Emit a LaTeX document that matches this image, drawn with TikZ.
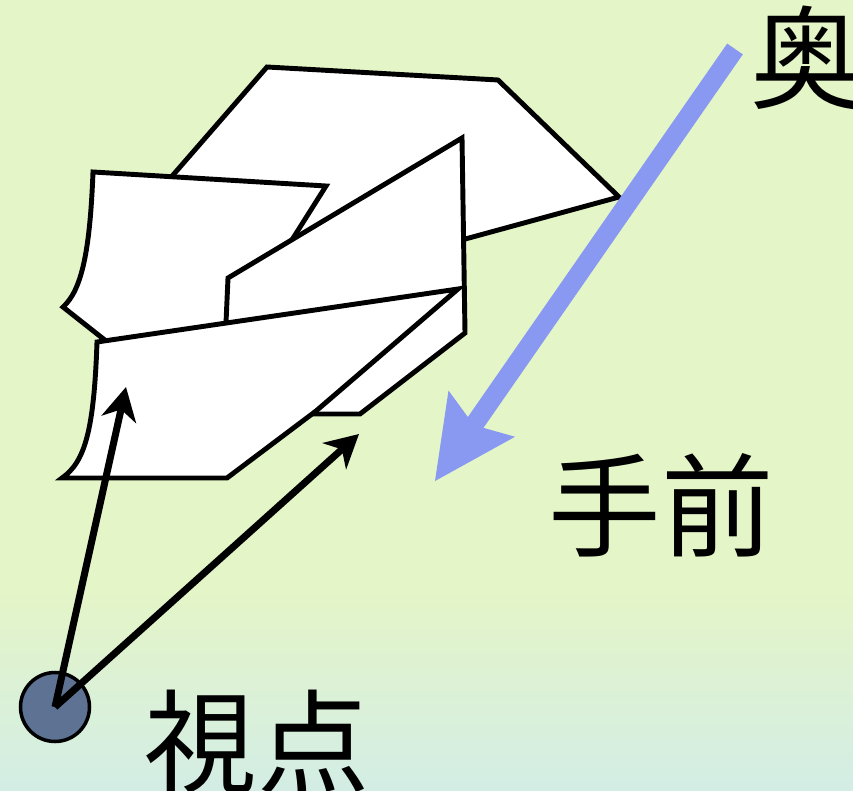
\documentclass[tikz,border=0pt]{standalone}
\usepackage{fontspec}
\newfontfamily\jpfont{Noto Sans CJK JP}
\usetikzlibrary{arrows.meta}
\definecolor{bggreen}{RGB}{228,245,199}
\definecolor{bgcyan}{RGB}{211,237,229}
\definecolor{depthblue}{RGB}{137,153,242}
\definecolor{eyeblue}{RGB}{94,115,147}

\tikzset{
  sheet/.style={draw=black, line width=2.8pt, fill=white},
  sight/.style={-{Stealth[length=0.66cm, width=0.7cm, inset=0.2cm]}, line width=4pt},
  depth/.style={-{Stealth[length=1.64cm, width=1.62cm, inset=0.28cm, line width=0pt]}, draw=depthblue, fill=depthblue, line width=0.38cm},
  jptext/.style={font=\jpfont\fontsize{64pt}{64pt}\selectfont, inner sep=0pt}
}

\begin{document}
\begin{tikzpicture}[x=0.2mm, y=-0.2mm]
    \useasboundingbox (0,0) rectangle (853,791);
    % background
    \fill[bggreen] (0,0) rectangle (853,791);
    \shade[top color=bggreen, bottom color=bgcyan] (0,590) rectangle (853,791);

    % folded sheets, from the back to the front
    \draw[sheet] (267,67) -- (498,80) -- (619,197) -- (458,241) -- (300,262) -- (160,190) -- cycle;
    \draw[sheet] (63,307) .. controls (82,290) and (90,250) .. (93,172) -- (326,186) -- (290,243) -- (250,332) -- (120,352) -- cycle;
    \draw[sheet] (462,138) -- (228,278) -- (225,345) -- (300,414) -- (360,414) -- (465,333) -- cycle;
    \draw[sheet] (62,478) .. controls (85,462) and (94,430) .. (97,342) -- (458,289) -- (316,411) -- (227,478) -- cycle;

    % viewpoint and lines of sight
    \node[circle, draw, line width=2pt, fill=eyeblue, minimum size=1.38cm, inner sep=0pt] (eye) at (55,707) {};
    \coordinate (lookA) at (126,387);
    \coordinate (lookB) at (359,434);
    \draw[sight] (eye.center) -- (lookA);
    \draw[sight] (eye.center) -- (lookB);

    % far -> near
    \coordinate (far) at (735,49);
    \coordinate (near) at (435,481);
    \draw[depth] (far) -- (near);

    \node[jptext] (farlabel) at (807,58) {奥};
    \node[jptext] (nearlabel) at (661,505) {手前};
    \node[jptext] (eyelabel) at (257,742) {視点};
\end{tikzpicture}
\end{document}
